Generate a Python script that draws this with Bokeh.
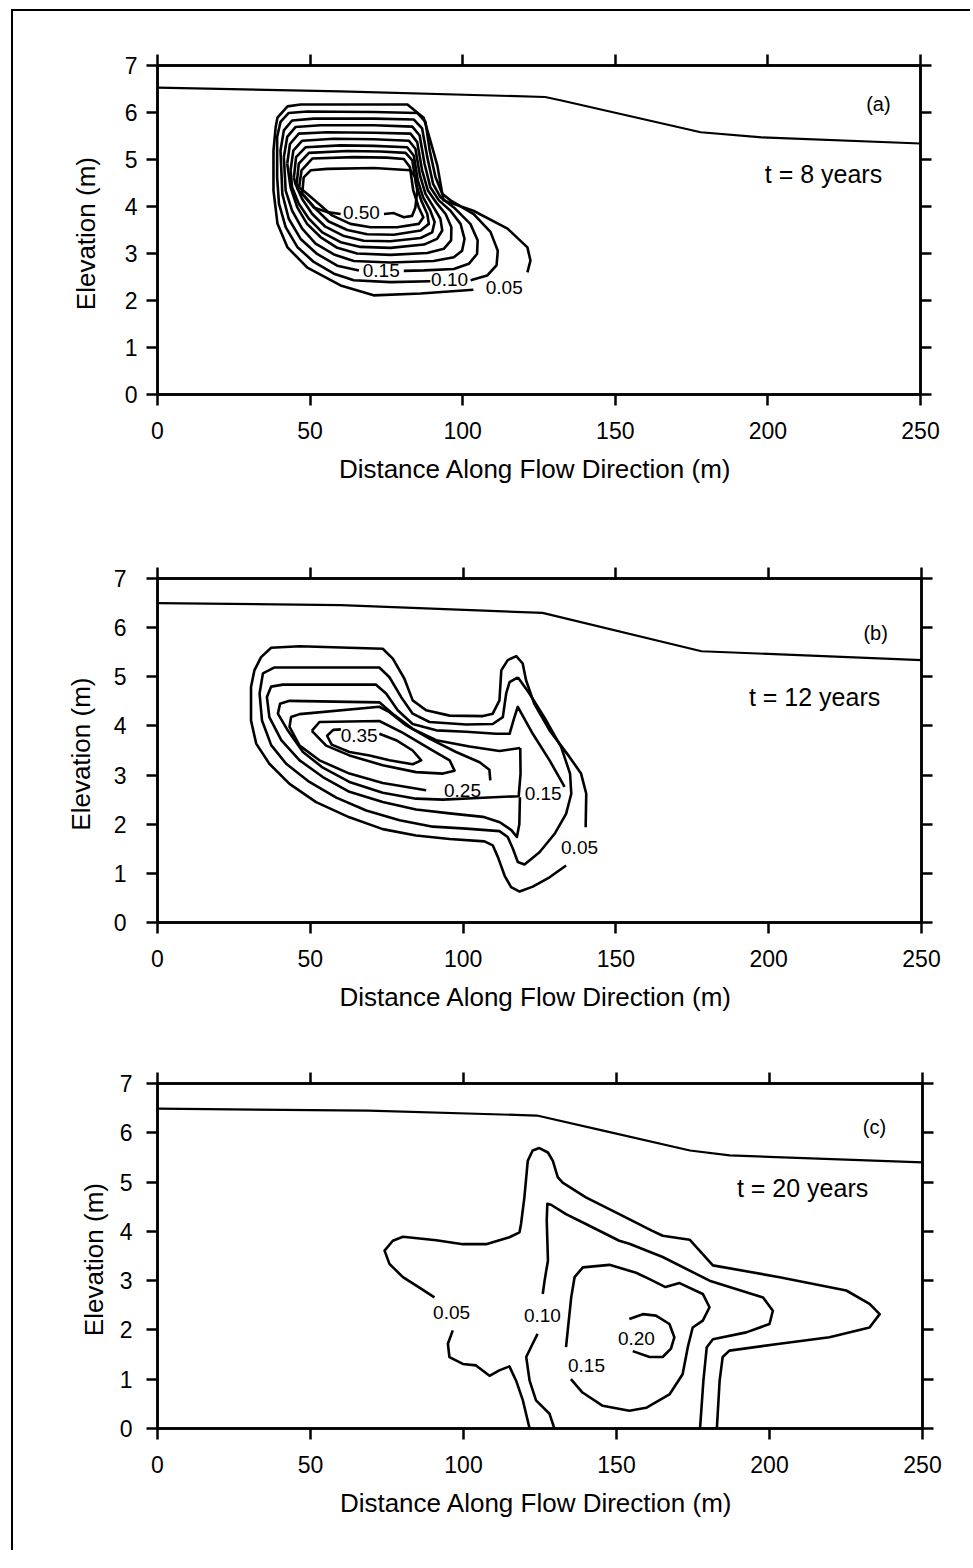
from bokeh.plotting import figure
from bokeh.models import Range1d, LinearAxis, FixedTicker, Label, Spacer
from bokeh.layouts import column, row
from bokeh.embed import file_html
from bokeh.resources import INLINE
from bokeh.core.properties import value

NAN = float("nan")
FONT = "Liberation Sans"
X_TICKS = [0, 50, 100, 150, 200, 250]
Y_TICKS = [0, 1, 2, 3, 4, 5, 6, 7]
X_LABEL = "Distance Along Flow Direction  (m)"
Y_LABEL = "Elevation  (m)"

# ---------------- panel (a): t = 8 years ----------------
A_GROUND_X = [0, 60, 127, 132, 178, 198, 250]
A_GROUND_Y = [6.53, 6.45, 6.33, 6.26, 5.58, 5.47, 5.34]

A_C05_X = [103.5, 86.2, 70.8, 60.0, 49.1, 42.6, 39.3, 38.0, 38.0, 38.7, 39.3, 42.6, 46.9, 81.9, 87.2, 89.4, 91.7, 93.7, 103.5, 114.7, 121.2, 122.2, 121.2]
A_C05_Y = [2.23, 2.15, 2.11, 2.32, 2.70, 3.13, 3.64, 4.34, 5.19, 5.68, 5.89, 6.13, 6.17, 6.17, 5.89, 5.40, 4.87, 4.13, 3.91, 3.53, 3.13, 2.85, 2.60]
A_C10_X = [89.4, 76.3, 64.3, 57.8, 51.2, 45.8, 42.0, 39.8, 39.2, 39.2, 40.3, 43.0, 49.0, 70.9, 85.1, 87.8, 89.2, 91.1, 93.3, 96.0, 103.6, 109.1, 111.5, 111.1, 108.0, 102.6]
A_C10_Y = [2.41, 2.39, 2.43, 2.57, 2.82, 3.14, 3.56, 4.06, 4.62, 5.48, 5.80, 5.99, 6.02, 6.01, 5.99, 5.80, 5.19, 4.62, 4.27, 4.13, 3.84, 3.46, 3.06, 2.75, 2.53, 2.43]
A_C15_X = [66.0, 58.9, 52.3, 46.9, 43.0, 40.9, 40.3, 41.4, 44.1, 51.2, 70.9, 84.0, 86.7, 88.4, 90.3, 92.7, 97.1, 102.5, 104.9, 104.7, 102.0, 97.1, 87.3, 80.7]
A_C15_Y = [2.64, 2.74, 2.99, 3.31, 3.74, 4.27, 5.19, 5.62, 5.83, 5.87, 5.87, 5.85, 5.66, 5.05, 4.48, 4.20, 3.98, 3.63, 3.28, 2.99, 2.78, 2.67, 2.64, 2.63]
A_C20_X = [41.4, 42.5, 45.2, 53.4, 70.9, 83.5, 85.9, 87.5, 89.4, 92.2, 96.0, 99.3, 100.6, 99.8, 97.1, 90.5, 76.3, 64.3, 57.8, 51.8, 47.4, 44.1, 42.0, 41.4]
A_C20_Y = [5.05, 5.48, 5.69, 5.73, 5.73, 5.70, 5.51, 4.91, 4.41, 4.13, 3.91, 3.63, 3.31, 3.06, 2.92, 2.84, 2.81, 2.84, 2.98, 3.21, 3.53, 3.91, 4.34, 5.05]
A_C25_X = [42.5, 43.4, 46.3, 55.6, 70.9, 82.9, 85.1, 86.7, 88.6, 91.6, 94.4, 96.3, 96.2, 93.8, 88.4, 76.3, 65.4, 58.9, 53.4, 49.0, 45.8, 43.6, 42.5]
A_C25_Y = [4.91, 5.33, 5.55, 5.58, 5.57, 5.55, 5.37, 4.77, 4.34, 4.06, 3.84, 3.56, 3.28, 3.10, 3.01, 2.97, 3.00, 3.12, 3.35, 3.63, 3.98, 4.41, 4.91]
A_C30_X = [43.6, 44.5, 47.4, 57.8, 70.9, 82.4, 84.5, 86.0, 87.8, 90.5, 92.7, 93.3, 91.6, 87.3, 76.3, 66.5, 60.0, 54.0, 49.6, 46.3, 44.1, 43.6]
A_C30_Y = [4.77, 5.19, 5.40, 5.44, 5.43, 5.40, 5.23, 4.66, 4.27, 3.98, 3.74, 3.49, 3.31, 3.19, 3.12, 3.14, 3.24, 3.45, 3.74, 4.06, 4.41, 4.77]
A_C35_X = [44.7, 45.4, 48.5, 60.0, 70.9, 81.8, 84.0, 85.3, 87.0, 89.4, 90.8, 90.0, 86.2, 76.3, 67.6, 61.1, 55.0, 50.7, 47.4, 45.2, 44.7]
A_C35_Y = [4.62, 5.05, 5.26, 5.30, 5.29, 5.26, 5.08, 4.55, 4.20, 3.91, 3.67, 3.45, 3.33, 3.26, 3.27, 3.37, 3.57, 3.84, 4.16, 4.48, 4.62]
A_C40_X = [45.6, 46.3, 49.6, 62.2, 73.1, 81.3, 83.5, 84.7, 86.4, 88.4, 88.9, 86.2, 77.4, 68.7, 62.2, 56.1, 51.8, 48.5, 46.0, 45.6]
A_C40_Y = [4.48, 4.91, 5.14, 5.18, 5.17, 5.14, 4.98, 4.48, 4.13, 3.84, 3.63, 3.49, 3.40, 3.41, 3.50, 3.68, 3.95, 4.20, 4.36, 4.48]
A_C45_X = [46.4, 47.2, 50.7, 64.3, 75.2, 80.7, 82.7, 83.8, 85.6, 87.1, 85.6, 78.5, 69.8, 63.2, 57.2, 52.8, 49.0, 46.4]
A_C45_Y = [4.41, 4.77, 5.02, 5.05, 5.04, 5.01, 4.84, 4.34, 3.98, 3.77, 3.63, 3.56, 3.56, 3.63, 3.81, 4.06, 4.27, 4.41]
A_C50_X = [74.2, 77.4, 80.7, 83.4, 84.5, 85.1, 84.5, 82.9, 70.9, 55.6, 50.2, 47.9, 47.4, 51.2, 55.6, 60.0]
A_C50_Y = [3.84, 3.86, 3.77, 3.80, 3.98, 4.34, 4.62, 4.77, 4.82, 4.80, 4.77, 4.62, 4.27, 3.98, 3.88, 3.84]

A_LABEL_TEXT = ["0.50", "0.15", "0.10", "0.05"]
A_LABEL_X = [66.8, 73.3, 95.7, 113.6]
A_LABEL_Y = [3.87, 2.64, 2.45, 2.28]

# ---------------- panel (b): t = 12 years ----------------
B_GROUND_X = [0, 60, 126, 178, 250]
B_GROUND_Y = [6.50, 6.46, 6.30, 5.52, 5.34]

B_C05_X = [140.1, 140.3, 138.6, 134.8, 128.3, 123.3, 120.6, 119.5, 117.4, 114.6, 112.5, 111.9, 109.7, 106.5, 95.6, 87.9, 83.5, 80.8, 77.0, 73.7, 46.5, 37.2, 33.9, 31.7, 30.6, 30.6, 32.3, 36.6, 43.2, 51.9, 62.8, 73.7, 84.6, 95.6, 107.0, 109.7, 111.4, 113.6, 115.7, 118.5, 122.8, 128.3, 133.7]
B_C05_Y = [1.94, 2.62, 3.03, 3.37, 3.91, 4.45, 4.93, 5.27, 5.42, 5.34, 5.13, 4.52, 4.25, 4.20, 4.21, 4.32, 4.52, 4.96, 5.37, 5.57, 5.62, 5.59, 5.40, 5.13, 4.79, 4.11, 3.64, 3.23, 2.82, 2.45, 2.14, 1.90, 1.77, 1.70, 1.65, 1.57, 1.33, 0.95, 0.72, 0.63, 0.73, 0.92, 1.16]
B_C10_X = [117.9, 121.7, 127.2, 132.1, 135.0, 135.4, 133.7, 129.9, 125.0, 120.1, 117.9, 116.3, 114.6, 111.9, 101.0, 90.1, 79.2, 68.3, 58.5, 49.7, 42.1, 37.2, 34.2, 33.4, 34.5, 38.3, 72.6, 75.9, 79.7, 83.5, 89.0, 101.0, 109.7, 113.0, 114.1, 115.2, 117.9]
B_C10_Y = [4.99, 4.66, 4.11, 3.57, 3.03, 2.62, 2.21, 1.80, 1.43, 1.18, 1.23, 1.50, 1.74, 1.86, 1.91, 1.95, 2.08, 2.28, 2.54, 2.86, 3.23, 3.61, 4.11, 4.66, 5.07, 5.19, 5.19, 4.99, 4.59, 4.25, 4.08, 4.03, 4.04, 4.18, 4.66, 4.89, 4.99]
B_C15_X = [133.2, 128.3, 122.8, 117.9, 116.8, 115.2, 110.8, 101.0, 91.2, 83.5, 78.6, 74.8, 71.5, 41.0, 37.2, 35.8, 36.6, 40.5, 46.5, 54.1, 62.8, 73.7, 84.6, 95.6, 106.5, 112.0, 115.8, 117.6, 118.4, 118.6]
B_C15_Y = [2.76, 3.30, 3.84, 4.39, 4.18, 3.84, 3.84, 3.88, 3.91, 4.04, 4.32, 4.66, 4.84, 4.84, 4.80, 4.59, 4.18, 3.71, 3.30, 2.96, 2.66, 2.45, 2.30, 2.22, 2.15, 2.04, 1.88, 1.74, 2.00, 2.55]
B_C20_X = [118.7, 118.8, 118.2, 106.5, 93.4, 84.6, 73.7, 62.8, 54.1, 47.6, 42.6, 39.4, 40.1, 43.2, 72.6, 77.5, 83.5, 91.2, 102.1, 111.9, 118.7]
B_C20_Y = [3.55, 3.03, 2.57, 2.54, 2.50, 2.52, 2.64, 2.86, 3.15, 3.47, 3.91, 4.25, 4.45, 4.51, 4.48, 4.22, 3.94, 3.71, 3.58, 3.49, 3.55]
B_C25_X = [87.9, 73.7, 62.8, 53.0, 46.5, 43.2, 43.7, 46.5, 72.6, 75.9, 81.4, 89.0, 97.7, 105.4, 108.6, 108.9]
B_C25_Y = [2.69, 2.84, 3.03, 3.30, 3.60, 3.98, 4.18, 4.24, 4.39, 4.28, 4.01, 3.74, 3.47, 3.26, 3.11, 2.89]
B_C30_X = [50.5, 53.0, 72.6, 80.3, 89.0, 95.6, 97.2, 93.4, 84.6, 73.7, 62.8, 55.2, 50.5]
B_C30_Y = [3.90, 4.08, 4.10, 3.86, 3.54, 3.30, 3.09, 3.03, 3.06, 3.20, 3.40, 3.60, 3.90]
B_C35_X = [72.6, 78.1, 83.5, 86.3, 83.5, 75.9, 69.4, 62.8, 57.0, 55.5, 57.5, 60.0]
B_C35_Y = [3.84, 3.71, 3.50, 3.30, 3.22, 3.30, 3.40, 3.47, 3.62, 3.80, 3.92, 3.93]

B_LABEL_TEXT = ["0.35", "0.25", "0.15", "0.05"]
B_LABEL_X = [66.0, 99.8, 126.2, 138.1]
B_LABEL_Y = [3.80, 2.69, 2.63, 1.53]

# ---------------- panel (c): t = 20 years ----------------
C_GROUND_X = [0, 69, 124, 146, 174, 187, 250]
C_GROUND_Y = [6.49, 6.45, 6.35, 6.04, 5.64, 5.54, 5.40]

C_C05_X = [90.5, 85.6, 80.2, 75.8, 74.2, 76.9, 80.2, 91.1, 99.8, 107.4, 115.0, 118.3, 118.8, 119.9, 121.0, 122.6, 124.8, 127.6, 129.2, 130.8, 132.4, 140.0, 150.9, 161.7, 165.1, 173.9, 181.5, 203.3, 225.1, 232.7, 236.0, 232.7, 219.6, 203.3, 186.9, 184.7, 183.7, 182.8,
           NAN, 96.5, 94.9, 95.4, 99.8, 104.1, 108.5, 111.7, 115.0, 117.2, 119.4, 121.6]
C_C05_Y = [2.66, 2.86, 3.07, 3.34, 3.61, 3.81, 3.89, 3.82, 3.74, 3.74, 3.88, 3.98, 4.15, 4.69, 5.43, 5.64, 5.69, 5.60, 5.43, 5.10, 4.99, 4.69, 4.35, 4.01, 3.91, 3.83, 3.31, 3.07, 2.80, 2.53, 2.32, 2.05, 1.85, 1.72, 1.58, 1.45, 0.97, 0.0,
           NAN, 1.99, 1.72, 1.45, 1.31, 1.28, 1.07, 1.18, 1.26, 0.97, 0.57, 0.0]
C_C10_X = [129.7, 128.1, 123.7, 121.6, 120.5, 122.6, 124.2,
           NAN, 125.9, 126.5, 127.6, 127.2, 127.4, 128.6, 133.5, 140.0, 150.9, 154.2, 165.1, 180.4, 197.9, 201.1, 200.0, 192.4, 181.5, 179.5, 178.4, 177.3]
C_C10_Y = [0.0, 0.30, 0.57, 0.97, 1.45, 1.72, 1.92,
           NAN, 2.73, 3.00, 3.41, 4.22, 4.56, 4.54, 4.35, 4.15, 3.81, 3.75, 3.48, 3.00, 2.66, 2.39, 2.12, 1.95, 1.81, 1.65, 0.97, 0.0]
C_C15_X = [133.5, 134.4, 135.2, 136.3, 139.0, 147.7, 156.4, 160.8, 166.0, 170.6, 178.2, 180.4, 178.2, 174.9, 173.3, 171.6, 167.3, 159.7, 154.2, 145.5, 138.9, 135.1]
C_C15_Y = [1.65, 2.19, 2.66, 3.07, 3.27, 3.32, 3.16, 3.03, 2.87, 2.95, 2.73, 2.46, 2.19, 2.05, 1.65, 1.10, 0.69, 0.42, 0.36, 0.46, 0.73, 1.00]
C_C20_X = [155.3, 160.8, 165.1, 167.8, 168.9, 167.3, 162.9, 158.6, 154.2]
C_C20_Y = [1.57, 1.45, 1.45, 1.62, 1.85, 2.12, 2.29, 2.32, 2.22]

C_LABEL_TEXT = ["0.05", "0.10", "0.15", "0.20"]
C_LABEL_X = [96.1, 125.8, 140.2, 156.5]
C_LABEL_Y = [2.35, 2.29, 1.28, 1.83]


def make_panel(ground, contours, labels, tag, tag_xy, ttext, ttext_xy,
               left, top, right, bottom, fw, fh, ytick_off, ylab_off):
    p = figure(frame_width=fw, frame_height=fh,
               x_range=Range1d(0, 250), y_range=Range1d(0, 7),
               output_backend="svg", toolbar_location=None,
               min_border_left=left, min_border_top=top,
               min_border_right=right, min_border_bottom=bottom,
               background_fill_color="white", border_fill_color="white")
    p.grid.visible = False
    p.outline_line_color = "black"
    p.outline_line_width = 2.5

    bottom_ax = p.below[0]
    left_ax = p.left[0]
    bottom_ax.ticker = FixedTicker(ticks=X_TICKS)
    left_ax.ticker = FixedTicker(ticks=Y_TICKS)
    top_ax = LinearAxis(ticker=FixedTicker(ticks=X_TICKS),
                        major_label_overrides={t: "" for t in X_TICKS})
    right_ax = LinearAxis(ticker=FixedTicker(ticks=Y_TICKS),
                          major_label_overrides={t: "" for t in Y_TICKS})
    p.add_layout(top_ax, "above")
    p.add_layout(right_ax, "right")
    for ax in [bottom_ax, left_ax, top_ax, right_ax]:
        ax.major_tick_out = 11
        ax.major_tick_in = 0
        ax.minor_tick_out = 0
        ax.minor_tick_in = 0
        ax.axis_line_width = 2.5
        ax.axis_line_color = "black"
        ax.major_tick_line_width = 2.5
        ax.major_tick_line_color = "black"
        ax.major_label_text_font = FONT
        ax.major_label_text_font_size = "23px"
        ax.major_label_text_color = "black"
    bottom_ax.axis_label = X_LABEL
    left_ax.axis_label = Y_LABEL
    for ax in [bottom_ax, left_ax]:
        ax.axis_label_text_font = FONT
        ax.axis_label_text_font_size = "26px"
        ax.axis_label_text_font_style = "normal"
        ax.axis_label_text_color = "black"
    bottom_ax.major_label_standoff = 16
    bottom_ax.axis_label_standoff = 12
    left_ax.major_label_standoff = ytick_off
    left_ax.axis_label_standoff = ylab_off

    gx, gy = ground
    p.line(gx, gy, line_color="black", line_width=2.2)
    for cx, cy in contours:
        p.line(cx, cy, line_color="black", line_width=2.6, line_join="round")
    lt, lx, ly = labels
    p.text(x=lx, y=ly, text=lt, text_font=value(FONT), text_font_size="19px",
           text_align="center", text_baseline="middle", text_color="black")
    p.add_layout(Label(x=tag_xy[0], y=tag_xy[1], text=tag, text_font=FONT,
                       text_font_size="20px", text_align="center",
                       text_baseline="middle", text_color="black"))
    p.add_layout(Label(x=ttext_xy[0], y=ttext_xy[1], text=ttext, text_font=FONT,
                       text_font_size="25px", text_align="center",
                       text_baseline="middle", text_color="black"))
    return p


pa = make_panel((A_GROUND_X, A_GROUND_Y),
                [(A_C05_X, A_C05_Y), (A_C10_X, A_C10_Y), (A_C15_X, A_C15_Y),
                 (A_C20_X, A_C20_Y), (A_C25_X, A_C25_Y), (A_C30_X, A_C30_Y),
                 (A_C35_X, A_C35_Y), (A_C40_X, A_C40_Y), (A_C45_X, A_C45_Y),
                 (A_C50_X, A_C50_Y)],
                (A_LABEL_TEXT, A_LABEL_X, A_LABEL_Y),
                "(a)", (236.2, 6.19), "t = 8 years", (218.2, 4.7),
                left=144, top=54, right=50, bottom=126, fw=763, fh=329,
                ytick_off=9, ylab_off=21)

pb = make_panel((B_GROUND_X, B_GROUND_Y),
                [(B_C05_X, B_C05_Y), (B_C10_X, B_C10_Y), (B_C15_X, B_C15_Y),
                 (B_C20_X, B_C20_Y), (B_C25_X, B_C25_Y), (B_C30_X, B_C30_Y),
                 (B_C35_X, B_C35_Y)],
                (B_LABEL_TEXT, B_LABEL_X, B_LABEL_Y),
                "(b)", (235.0, 5.89), "t = 12 years", (215.0, 4.58),
                left=135, top=58, right=58, bottom=113, fw=764, fh=344,
                ytick_off=20, ylab_off=15)

pc = make_panel((C_GROUND_X, C_GROUND_Y),
                [(C_C05_X, C_C05_Y), (C_C10_X, C_C10_Y), (C_C15_X, C_C15_Y),
                 (C_C20_X, C_C20_Y)],
                (C_LABEL_TEXT, C_LABEL_X, C_LABEL_Y),
                "(c)", (234.3, 6.11), "t = 20 years", (210.8, 4.87),
                left=135, top=48, right=57, bottom=122, fw=765, fh=345,
                ytick_off=14, ylab_off=8)

boxed = column(pa, pb, pc, styles={"border-left": "2px solid black",
                                   "border-top": "2px solid black"})
layout = row(Spacer(width=11), column(Spacer(height=9), boxed))

with open("out.html", "w") as f:
    f.write(file_html(layout, INLINE, title="Plume contours"))
